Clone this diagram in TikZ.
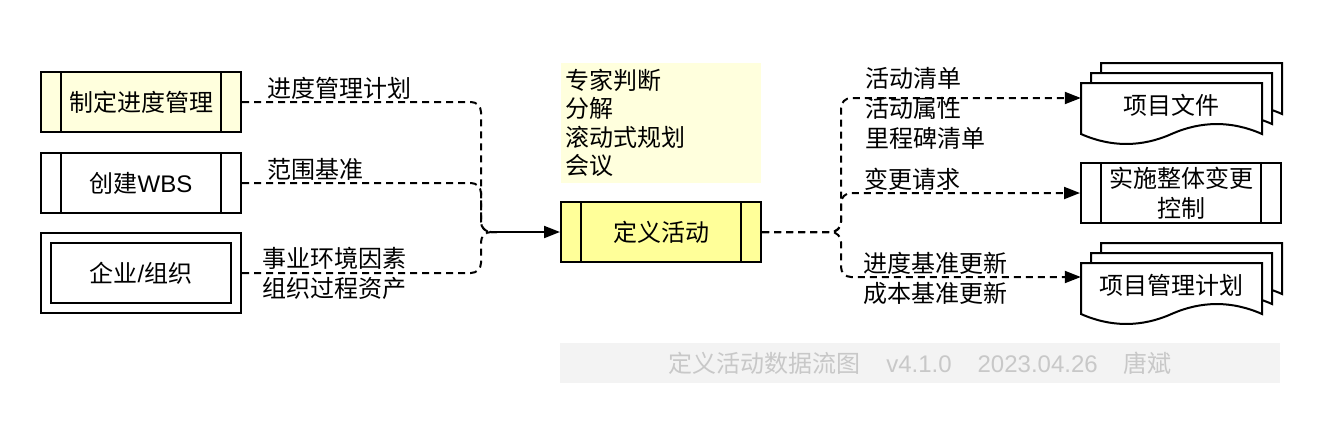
\documentclass[tikz,border=0pt]{standalone}
\usepackage{fontspec}
\setmainfont{Noto Sans CJK SC}
\newfontfamily\latinfont{Liberation Sans}
\usetikzlibrary{calc, arrows.meta}
\definecolor{paleyellow}{RGB}{255,255,221}
\definecolor{procyellow}{RGB}{255,255,153}
\definecolor{footgray}{RGB}{243,243,243}
\definecolor{foottext}{RGB}{200,200,200}

% stacked document page, #1 = centre coordinate, #2 = offset of the copy
\newcommand{\docpage}[2]{%
  \draw[line width=2pt, fill=white] ($(#1)+(-90.5+#2,-22-#2)$) -- ++(181,0) -- ++(0,51)
    .. controls +(-30,-13.3) and +(30,-13.3) .. ++(-90.5,0)
    .. controls +(-30,13.3) and +(30,13.3) .. ++(-90.5,0) -- cycle;}

\begin{document}
\begin{tikzpicture}[
    x=1pt, y=-1pt,
    txt/.style={font=\fontsize{24}{30}\selectfont},
    process/.style={txt, draw, line width=2pt, minimum width=200pt, minimum height=60pt,
        inner sep=0pt, align=center,
        path picture={
            \draw[line width=2pt] ($(path picture bounding box.north west)+(20,0)$) -- ($(path picture bounding box.south west)+(20,0)$);
            \draw[line width=2pt] ($(path picture bounding box.north east)+(-20,0)$) -- ($(path picture bounding box.south east)+(-20,0)$);}},
    entity/.style={txt, draw, double, double distance=8pt, line width=2pt,
        minimum width=190pt, minimum height=70pt},
    docbox/.style={txt, minimum width=181pt, inner sep=0pt},
    flowlabel/.style={txt, anchor=west, inner sep=0pt, align=left},
    dataflow/.style={line width=2pt, dash pattern=on 7pt off 5pt, rounded corners=10pt},
    arrowflow/.style={dataflow, -{Triangle[length=16pt, width=12pt]}}]

\useasboundingbox (0,0) rectangle (1322,424);

% Inputs
\node[process, fill=paleyellow] (schedplan) at (141,102) {制定进度管理};
\node[process, fill=white] (wbs) at (141,183) {创建{\latinfont WBS}};
\node[entity, fill=white] (org) at (141,273) {企业{\latinfont /}组织};

% Tools and the process
\node[fill=paleyellow, minimum width=200pt, minimum height=120pt, text width=192pt,
    inner sep=4pt, align=left, font=\fontsize{24}{28.5}\selectfont] (tools) at (661,123)
    {专家判断\\分解\\滚动式规划\\会议};
\node[process, fill=procyellow] (define) at (661,232) {定义活动};

% Outputs
\coordinate (projdocspos) at (1171.5,105);
\docpage{projdocspos}{20}
\docpage{projdocspos}{10}
\docpage{projdocspos}{0}
\node[docbox] (projdocs) at (projdocspos) {项目文件};
\node[process, fill=white] (ccb) at (1181,193) {实施整体变更\\控制};
\coordinate (planpos) at (1171.5,285);
\docpage{planpos}{20}
\docpage{planpos}{10}
\docpage{planpos}{0}
\node[docbox] (mgmtplan) at (planpos) {项目管理计划};

% Flows in
\coordinate (inbus) at (481,232);
\coordinate (inmerge) at (497,232);
\draw[dataflow] (schedplan.east) -| (inbus) -- (inmerge);
\draw[dataflow] (wbs.east) -| (inbus) -- (inmerge);
\draw[dataflow] ([xshift=5pt]org.east) -| (inbus) -- (inmerge);
\draw[line width=2pt, -{Triangle[length=16pt, width=12pt]}] (inmerge) -- (define.west);

% Flows out
\coordinate (outbus) at (841,232);
\draw[arrowflow] (define.east) -- (outbus) |- ([yshift=7pt]projdocs.west);
\draw[arrowflow] (define.east) -- (outbus) |- (ccb.west);
\draw[arrowflow] (define.east) -- (outbus) |- ([yshift=8pt]mgmtplan.west);

% Flow labels
\node[flowlabel] (planlbl) at (267,88) {进度管理计划};
\node[flowlabel] (scopelbl) at (267,169) {范围基准};
\node[flowlabel] (eeflbl) at (262,273) {事业环境因素\\组织过程资产};
\node[flowlabel] (listlbl) at (865,108) {活动清单\\活动属性\\里程碑清单};
\node[flowlabel] (crlbl) at (864,179) {变更请求};
\node[flowlabel] (updlbl) at (863,278) {进度基准更新\\成本基准更新};

% Footer
\node[txt, fill=footgray, text=foottext, minimum width=720pt, minimum height=40pt] (footer) at (920,363)
    {定义活动数据流图\hspace{26pt}{\latinfont v4.1.0}\hspace{26pt}{\latinfont 2023.04.26}\hspace{26pt}唐斌};

\end{tikzpicture}
\end{document}
